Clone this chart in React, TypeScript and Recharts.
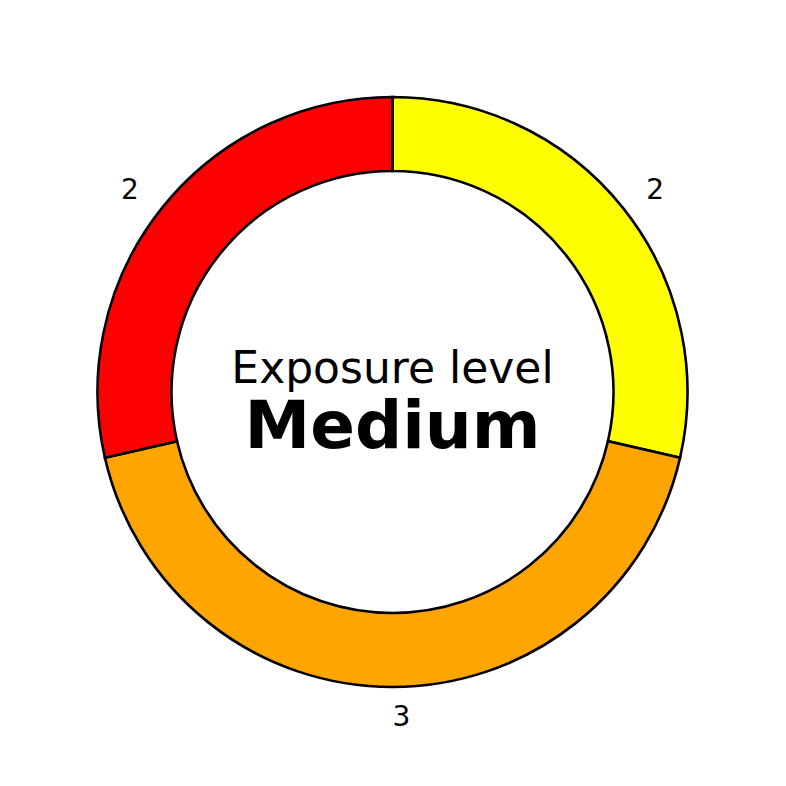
import { Cell, Pie, PieChart } from "recharts"

const levels = ["Low", "Medium", "High"]
const counts = [2, 3, 2]
const colors = ["#ffff00", "#ffa500", "#ff0000"]

const RADIAN = Math.PI / 180
const SIZE = 786
const CX = 392.5
const CY = 392
const FONT = "'DejaVu Sans', sans-serif"

const data = levels.map((name, i) => ({ name, value: counts[i] }))

function renderLabel(props: any) {
  const { cx, cy, midAngle, outerRadius, value } = props
  const r = outerRadius * 1.1
  const cos = Math.cos(-midAngle * RADIAN)
  const x = cx + r * cos
  const y = cy + r * Math.sin(-midAngle * RADIAN)
  return (
    <text
      x={x}
      y={y + 9}
      textAnchor={cos > -1e-6 ? "start" : "end"}
      fontFamily={FONT}
      fontSize={28}
      fill="#000"
    >
      {value}
    </text>
  )
}

export default function App() {
  return (
    <div style={{ position: "absolute", left: 0, top: 0, width: SIZE, height: SIZE, background: "#fff" }}>
      <PieChart width={SIZE} height={SIZE} margin={{ top: 0, right: 0, bottom: 0, left: 0 }}>
        <Pie
          data={data}
          dataKey="value"
          cx={CX}
          cy={CY}
          innerRadius={221}
          outerRadius={295}
          startAngle={90}
          endAngle={-270}
          stroke="#000"
          strokeWidth={2.6}
          label={renderLabel}
          labelLine={false}
          isAnimationActive={false}
        >
          {data.map((d, i) => (
            <Cell key={d.name} fill={colors[i]} />
          ))}
        </Pie>
        <text x={CX} y={383} textAnchor="middle" fontFamily={FONT} fontSize={44} fill="#000">
          Exposure level
        </text>
        <text
          x={CX}
          y={448}
          textAnchor="middle"
          fontFamily={FONT}
          fontSize={66}
          fontWeight="bold"
          fill="#000"
        >
          Medium
        </text>
      </PieChart>
    </div>
  )
}
